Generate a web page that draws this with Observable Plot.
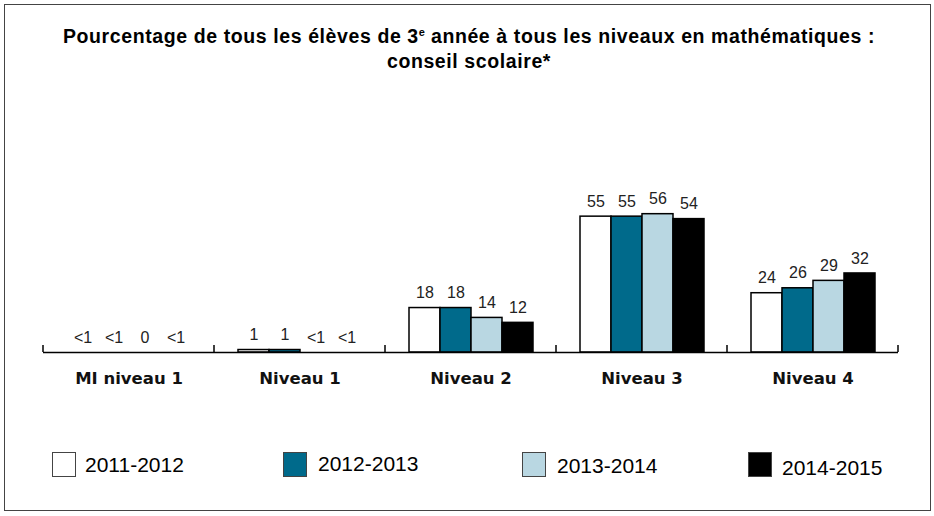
<!DOCTYPE html>
<html><head><meta charset="utf-8">
<script src="https://cdn.jsdelivr.net/npm/d3@7"></script>
<script src="https://cdn.jsdelivr.net/npm/@observablehq/plot@0.6"></script>
<style>
html,body{margin:0;padding:0;background:#fff;}
#wrap{position:relative;width:934px;height:516px;overflow:hidden;font-family:"Liberation Sans",Arial,sans-serif;}
#frame{position:absolute;left:4px;top:4px;width:925px;height:505px;border:1.5px solid #444;}
#title{position:absolute;left:0;top:24px;width:938px;text-align:center;font-weight:bold;font-size:19.5px;letter-spacing:0.6px;line-height:25px;color:#000;}
#title sup{font-size:11px;vertical-align:7px;line-height:0;letter-spacing:0;}
#chart{position:absolute;left:0;top:0;}
.leg-sq{position:absolute;width:22px;height:23px;border:1.5px solid #444;}
.leg-tx{position:absolute;font-size:21px;line-height:24px;color:#000;white-space:nowrap;}
</style></head><body>
<div id="wrap">
 <div id="frame"></div>
 <div id="title">Pourcentage de tous les élèves de 3<sup>e</sup> année à tous les niveaux en mathématiques :<br>conseil scolaire*</div>
 <div id="chart"></div>
 <div id="legend"></div>
</div>
<script>
const categories = ["MI niveau 1", "Niveau 1", "Niveau 2", "Niveau 3", "Niveau 4"];
const years = ["2011-2012", "2012-2013", "2013-2014", "2014-2015"];
const values2011 = [0, 1, 18, 55, 24];
const values2012 = [0, 1, 18, 55, 26];
const values2013 = [0, 0, 14, 56, 29];
const values2014 = [0, 0, 12, 54, 32];
const labels2011 = ["<1", "1", "18", "55", "24"];
const labels2012 = ["<1", "1", "18", "55", "26"];
const labels2013 = ["0", "<1", "14", "56", "29"];
const labels2014 = ["<1", "<1", "12", "54", "32"];
const colors = ["#ffffff", "#006a8b", "#b9d7e2", "#000000"];

const series = [values2011, values2012, values2013, values2014];
const seriesLabels = [labels2011, labels2012, labels2013, labels2014];
const rows = categories.flatMap((c, i) => years.map((yr, j) => ({
  cat: c, year: yr, value: series[j][i], label: seriesLabels[j][i]
})));

const plot = Plot.plot({
  width: 934, height: 400,
  marginLeft: 42, marginRight: 35, marginTop: 105, marginBottom: 48,
  style: {fontFamily: '"Liberation Sans", Arial, sans-serif', background: "transparent", overflow: "visible"},
  fx: {domain: categories, padding: 0, axis: null, label: null},
  x: {domain: years, paddingInner: 0, paddingOuter: 0.74, axis: null},
  y: {domain: [0, 100], axis: null},
  color: {domain: years, range: colors},
  marks: [
    Plot.barY(rows, {fx: "cat", x: "year", y: "value", fill: "year", stroke: "#000", strokeWidth: 1.5}),
    Plot.ruleY([0], {stroke: "#000", strokeWidth: 1.5}),
    Plot.text(rows, {fx: "cat", x: "year", y: "value", text: "label", dy: -15, fontSize: 16, fill: "#222"}),
    Plot.text(categories, {fx: d => d, text: d => d, frameAnchor: "bottom", dy: 31, fontWeight: "bold", fontSize: 16.5, fontFamily: "DejaVu Sans", fill: "#111"})
  ]
});
document.getElementById("chart").appendChild(plot);

// group boundary ticks on the baseline, from the facet scale
const fx = plot.scale("fx");
const ys = plot.scale("y");
const y0 = ys.apply(0);
const bounds = categories.map(c => fx.apply(c)).concat([fx.apply(categories[categories.length - 1]) + fx.bandwidth]);
d3.select(plot).append("g").selectAll("line").data(bounds).join("line")
  .attr("x1", d => d).attr("x2", d => d)
  .attr("y1", y0).attr("y2", y0 - 7)
  .attr("stroke", "#000").attr("stroke-width", 1.5);

// legend
const legendSquareX = [52, 283, 522, 748];
const legendTextX = [85, 318, 557, 782];
const legendTextY = [453, 452, 454, 456];
const legend = document.getElementById("legend");
years.forEach((yr, j) => {
  const sq = document.createElement("div");
  sq.className = "leg-sq";
  sq.style.left = legendSquareX[j] + "px";
  sq.style.top = "452px";
  sq.style.background = colors[j];
  legend.appendChild(sq);
  const tx = document.createElement("div");
  tx.className = "leg-tx";
  tx.style.left = legendTextX[j] + "px";
  tx.style.top = legendTextY[j] + "px";
  tx.textContent = yr;
  legend.appendChild(tx);
});
</script>
</body></html>
